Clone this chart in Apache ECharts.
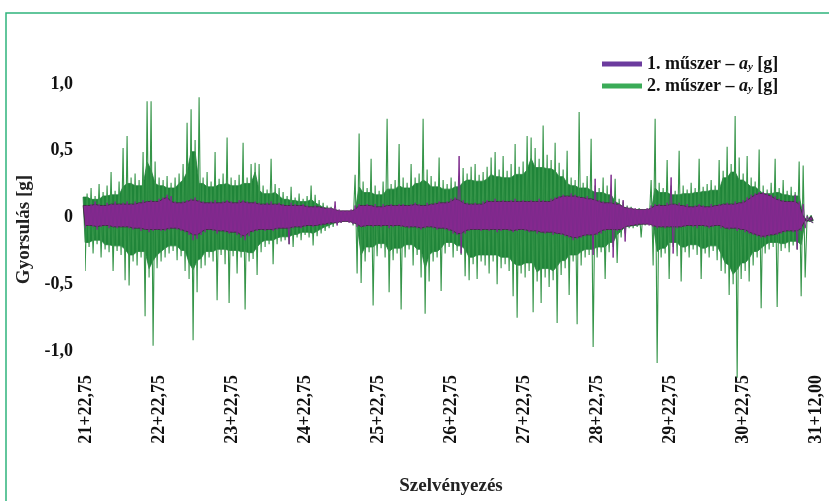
<!DOCTYPE html>
<html>
<head>
<meta charset="utf-8">
<script src="https://cdn.jsdelivr.net/npm/echarts@6/dist/echarts.min.js"></script>
<style>
  html, body { margin: 0; padding: 0; background: #fff; }
  #chart { width: 829px; height: 501px; }
</style>
</head>
<body>
<div id="chart"></div>
<script>
// tick labels (chainage) and y labels
const xTickLabels = ["21+22,75", "22+22,75", "23+22,75", "24+22,75", "25+22,75", "26+22,75",
  "27+22,75", "28+22,75", "29+22,75", "30+22,75", "31+12,00"];
const yTickLabels = ["-1,0", "-0,5", "0", "0,5", "1,0"];
const seriesNames = ["1. műszer – ay [g]", "2. műszer – ay [g]"];

// sample spacing along the track (m), one up/down pair per step
const xStart = -4;
const xStep = 5.48;

// 2. műszer – local maxima / minima (g)
const green2Up = [
  0.41, 0.18, 0.22, 0.16, 0.25, 0.19, 0.24, 0.34, 0.20, 0.27,
  0.52, 0.61, 0.30, 0.33, 0.28, 0.49, 0.87, 0.87, 0.42, 0.30,
  0.28, 0.31, 0.26, 0.30, 0.33, 0.40, 0.71, 0.81, 0.58, 0.90,
  0.30, 0.34, 0.27, 0.49, 0.29, 0.33, 0.60, 0.30, 0.28, 0.32,
  0.56, 0.30, 0.40, 0.41, 0.40, 0.24, 0.21, 0.44, 0.25, 0.22,
  0.19, 0.16, 0.23, 0.15, 0.18, 0.14, 0.16, 0.24, 0.17, 0.13,
  0.11, 0.09, 0.08, 0.05, 0.04, 0.03, 0.03, 0.05, 0.32, 0.63,
  0.27, 0.22, 0.44, 0.24, 0.20, 0.27, 0.74, 0.25, 0.28, 0.55,
  0.30, 0.26, 0.40, 0.30, 0.33, 0.74, 0.36, 0.31, 0.27, 0.45,
  0.28, 0.25, 0.30, 0.27, 0.31, 0.37, 0.33, 0.38, 0.40, 0.32,
  0.34, 0.38, 0.45, 0.49, 0.36, 0.46, 0.35, 0.40, 0.55, 0.38,
  0.42, 0.61, 0.60, 0.52, 0.44, 0.69, 0.47, 0.43, 0.56, 0.41,
  0.36, 0.50, 0.30, 0.28, 0.79, 0.26, 0.31, 0.59, 0.24, 0.22,
  0.30, 0.24, 0.20, 0.29, 0.14, 0.12, 0.09, 0.08, 0.06, 0.07,
  0.06, 0.05, 0.28, 0.74, 0.26, 0.22, 0.43, 0.24, 0.20, 0.50,
  0.24, 0.21, 0.26, 0.22, 0.44, 0.23, 0.25, 0.28, 0.24, 0.43,
  0.35, 0.53, 0.40, 0.76, 0.45, 0.33, 0.46, 0.30, 0.27, 0.51,
  0.24, 0.21, 0.26, 0.44, 0.22, 0.28, 0.20, 0.23, 0.19, 0.42,
  0.39, 0.02, -0.03
];
const green2Dn = [
  -0.40, -0.22, -0.27, -0.20, -0.30, -0.24, -0.26, -0.40, -0.25, -0.28,
  -0.47, -0.51, -0.33, -0.36, -0.30, -0.74, -0.45, -0.96, -0.38, -0.33,
  -0.30, -0.27, -0.25, -0.32, -0.29, -0.40, -0.46, -0.92, -0.56, -0.38,
  -0.36, -0.30, -0.33, -0.62, -0.28, -0.35, -0.64, -0.29, -0.42, -0.30,
  -0.69, -0.33, -0.31, -0.43, -0.26, -0.22, -0.20, -0.35, -0.20, -0.18,
  -0.17, -0.20, -0.22, -0.15, -0.17, -0.13, -0.15, -0.21, -0.14, -0.12,
  -0.10, -0.08, -0.07, -0.05, -0.04, -0.03, -0.03, -0.06, -0.42, -0.49,
  -0.33, -0.26, -0.66, -0.29, -0.23, -0.30, -0.56, -0.32, -0.27, -0.69,
  -0.30, -0.24, -0.36, -0.28, -0.45, -0.72, -0.48, -0.33, -0.30, -0.55,
  -0.27, -0.22, -0.30, -0.25, -0.28, -0.44, -0.47, -0.35, -0.46, -0.33,
  -0.36, -0.42, -0.33, -0.50, -0.38, -0.35, -0.40, -0.59, -0.75, -0.42,
  -0.45, -0.40, -0.71, -0.48, -0.64, -0.45, -0.52, -0.47, -0.79, -0.43,
  -0.38, -0.58, -0.33, -0.80, -0.36, -0.30, -0.28, -0.97, -0.30, -0.26,
  -0.46, -0.26, -0.22, -0.34, -0.15, -0.12, -0.08, -0.08, -0.07, -0.15,
  -0.06, -0.05, -0.36, -1.09, -0.30, -0.27, -0.46, -0.22, -0.29, -0.48,
  -0.26, -0.30, -0.24, -0.28, -0.46, -0.27, -0.30, -0.25, -0.32, -0.40,
  -0.42, -0.58, -0.50, -1.20, -0.46, -0.40, -0.48, -0.36, -0.30, -0.68,
  -0.27, -0.24, -0.22, -0.67, -0.25, -0.23, -0.26, -0.21, -0.24, -0.59,
  -0.45, -0.03, -0.04
];

// 1. műszer – local maxima / minima (g)
const purple1Up = [
  0.11, 0.09, 0.10, 0.12, 0.10, 0.09, 0.11, 0.10, 0.12, 0.10,
  0.11, 0.12, 0.10, 0.12, 0.11, 0.13, 0.12, 0.13, 0.12, 0.14,
  0.15, 0.17, 0.16, 0.12, 0.11, 0.12, 0.13, 0.14, 0.15, 0.13,
  0.12, 0.11, 0.12, 0.13, 0.11, 0.12, 0.13, 0.12, 0.11, 0.13,
  0.13, 0.12, 0.11, 0.12, 0.11, 0.10, 0.11, 0.12, 0.10, 0.11,
  0.10, 0.09, 0.11, 0.10, 0.09, 0.10, 0.09, 0.08, 0.09, 0.08,
  0.08, 0.07, 0.07, 0.12, 0.06, 0.05, 0.05, 0.06, 0.09, 0.10,
  0.09, 0.10, 0.09, 0.10, 0.08, 0.10, 0.09, 0.10, 0.09, 0.10,
  0.10, 0.09, 0.10, 0.11, 0.10, 0.09, 0.11, 0.10, 0.11, 0.12,
  0.11, 0.12, 0.14, 0.15, 0.46, 0.13, 0.11, 0.10, 0.11, 0.10,
  0.12, 0.13, 0.12, 0.14, 0.12, 0.13, 0.12, 0.13, 0.14, 0.12,
  0.13, 0.12, 0.13, 0.12, 0.14, 0.13, 0.12, 0.14, 0.15, 0.16,
  0.17, 0.16, 0.18, 0.17, 0.16, 0.15, 0.16, 0.14, 0.29, 0.13,
  0.12, 0.11, 0.32, 0.12, 0.10, 0.13, 0.08, 0.07, 0.07, 0.06,
  0.06, 0.07, 0.09, 0.10, 0.10, 0.09, 0.11, 0.30, 0.10, 0.11,
  0.09, 0.10, 0.08, 0.09, 0.10, 0.09, 0.08, 0.10, 0.09, 0.10,
  0.10, 0.11, 0.10, 0.12, 0.11, 0.13, 0.15, 0.17, 0.18, 0.19,
  0.19, 0.18, 0.17, 0.16, 0.14, 0.13, 0.12, 0.12, 0.17, 0.12,
  0.10, 0.01, -0.03
];
const purple1Dn = [
  -0.08, -0.06, -0.07, -0.09, -0.07, -0.06, -0.08, -0.07, -0.08, -0.07,
  -0.07, -0.08, -0.09, -0.08, -0.10, -0.09, -0.11, -0.10, -0.09, -0.10,
  -0.10, -0.09, -0.08, -0.09, -0.10, -0.11, -0.13, -0.17, -0.16, -0.13,
  -0.11, -0.09, -0.10, -0.12, -0.10, -0.11, -0.12, -0.11, -0.13, -0.15,
  -0.17, -0.14, -0.11, -0.10, -0.09, -0.10, -0.09, -0.10, -0.09, -0.08,
  -0.08, -0.20, -0.08, -0.07, -0.08, -0.07, -0.06, -0.07, -0.06, -0.06,
  -0.05, -0.05, -0.04, -0.06, -0.04, -0.03, -0.04, -0.05, -0.07, -0.07,
  -0.07, -0.06, -0.07, -0.06, -0.07, -0.06, -0.08, -0.07, -0.06, -0.07,
  -0.07, -0.08, -0.07, -0.08, -0.09, -0.08, -0.07, -0.08, -0.09, -0.08,
  -0.09, -0.10, -0.12, -0.13, -0.27, -0.12, -0.10, -0.09, -0.09, -0.10,
  -0.09, -0.10, -0.09, -0.11, -0.10, -0.09, -0.10, -0.11, -0.10, -0.09,
  -0.10, -0.11, -0.10, -0.12, -0.11, -0.12, -0.11, -0.13, -0.12, -0.13,
  -0.14, -0.15, -0.17, -0.16, -0.15, -0.14, -0.13, -0.28, -0.13, -0.12,
  -0.10, -0.09, -0.30, -0.10, -0.09, -0.18, -0.07, -0.06, -0.06, -0.05,
  -0.05, -0.06, -0.07, -0.08, -0.07, -0.08, -0.07, -0.27, -0.08, -0.07,
  -0.07, -0.06, -0.07, -0.08, -0.06, -0.07, -0.08, -0.07, -0.06, -0.08,
  -0.08, -0.09, -0.08, -0.10, -0.09, -0.11, -0.12, -0.13, -0.14, -0.15,
  -0.15, -0.14, -0.13, -0.13, -0.12, -0.11, -0.10, -0.11, -0.24, -0.10,
  -0.08, -0.02, -0.04
];

// interleave the maxima and minima into one trace
function zigzag(up, dn) {
  const out = [];
  up.forEach((v, i) => {
    const x = xStart + i * xStep;
    out.push([x, v]);
    out.push([x + xStep / 2, dn[i]]);
  });
  return out;
}

// dense part of the signal: drop single-sample peaks (min of 3 neighbours in magnitude)
function core(arr, k) {
  return arr.map((v, i) => {
    const a = arr[Math.max(0, i - 1)], b = arr[Math.min(arr.length - 1, i + 1)];
    return k * (v >= 0 ? Math.min(v, a, b) : Math.max(v, a, b));
  });
}

// solid band between the upper and lower edges
function bandSeries(up, dn, fill, stroke, z) {
  return {
    type: "custom",
    silent: true,
    z: z,
    data: [[0, 0]],
    renderItem: (params, api) => {
      const pts = [];
      up.forEach((v, i) => pts.push(api.coord([xStart + i * xStep, v])));
      for (let i = dn.length - 1; i >= 0; i--) pts.push(api.coord([xStart + i * xStep + xStep / 2, dn[i]]));
      return { type: "polygon", shape: { points: pts }, style: { fill: fill, stroke: stroke, lineWidth: 0.8 } };
    }
  };
}

const serif = "'Liberation Serif', 'DejaVu Serif', serif";
const chart = echarts.init(document.getElementById("chart"));

const richLegend = {
  t: { fontFamily: serif, fontWeight: "bold", fontSize: 18, color: "#111" },
  a: { fontFamily: serif, fontWeight: "bold", fontStyle: "italic", fontSize: 18, color: "#111" },
  s: { fontFamily: serif, fontWeight: "bold", fontStyle: "italic", fontSize: 11, color: "#111", padding: [7, 0, 0, 0] }
};

const option = {
  backgroundColor: "#fff",
  animation: false,
  graphic: [{
    type: "rect",
    shape: { x: 6, y: 13, width: 900, height: 600 },
    style: { fill: "none", stroke: "#2fb47c", lineWidth: 1.5 },
    silent: true
  }],
  legend: {
    data: [seriesNames[0], seriesNames[1]],
    orient: "vertical",
    left: 597,
    top: 50,
    itemWidth: 40,
    itemHeight: 5,
    itemGap: 4,
    icon: "rect",
    formatter: (name) => "{t|" + name.slice(0, 2) + " műszer – }{a|a}{s|y}{t| [g]}",
    textStyle: { rich: richLegend }
  },
  grid: { left: 86, width: 730, top: 84, height: 271 },
  xAxis: {
    type: "value",
    min: 0,
    max: 1000,
    interval: 100,
    name: "Szelvényezés",
    nameLocation: "middle",
    nameGap: 126,
    nameTextStyle: { fontFamily: serif, fontWeight: "bold", fontSize: 19, color: "#222" },
    axisLine: { show: false },
    axisTick: { show: false },
    splitLine: { show: false },
    axisLabel: {
      rotate: 90,
      margin: 24,
      fontFamily: serif,
      fontWeight: "bold",
      fontSize: 18,
      color: "#111",
      formatter: (v, i) => xTickLabels[i]
    }
  },
  yAxis: {
    type: "value",
    min: -1,
    max: 1,
    interval: 0.5,
    name: "Gyorsulás [g]",
    nameLocation: "middle",
    nameGap: 51,
    nameTextStyle: { fontFamily: serif, fontWeight: "bold", fontSize: 19, color: "#222", padding: [0, 24, 0, 0] },
    axisLine: { show: false },
    axisTick: { show: false },
    splitLine: { show: false },
    axisLabel: {
      margin: 13,
      fontFamily: serif,
      fontWeight: "bold",
      fontSize: 18,
      color: "#111",
      formatter: (v, i) => yTickLabels[i]
    }
  },
  series: [
    bandSeries(core(green2Up, 0.85), core(green2Dn, 0.85), "#1f8539", "#237f3b", 1),
    {
      name: seriesNames[1],
      type: "line",
      data: zigzag(green2Up, green2Dn),
      showSymbol: false,
      clip: false,
      z: 2,
      itemStyle: { color: "#3aab57" },
      lineStyle: { color: "#369549", width: 1.1 }
    },
    bandSeries(core(purple1Up, 1), core(purple1Dn, 1), "#85288f", "#3b2a3e", 3),
    {
      name: seriesNames[0],
      type: "line",
      data: zigzag(purple1Up, purple1Dn),
      showSymbol: false,
      clip: false,
      z: 4,
      itemStyle: { color: "#6c3b9e" },
      lineStyle: { color: "#7d2a8c", width: 1 }
    }
  ]
};

chart.setOption(option);
</script>
</body>
</html>
